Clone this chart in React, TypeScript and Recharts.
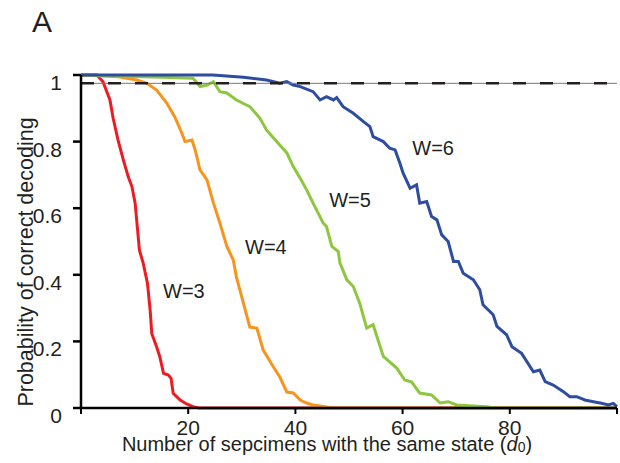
import React from "react";
import { LineChart, Line, XAxis, YAxis, ReferenceLine, ReferenceDot } from "recharts";

// [d0, probability]
const w3: [number, number][] = [
  [0, 1], [3, 1], [3.5, 0.99], [4.1, 0.98], [5.4, 0.925], [6, 0.87], [6.9, 0.805],
  [7.9, 0.745], [8.8, 0.695], [9.5, 0.665], [10.1, 0.615], [10.5, 0.545], [10.9, 0.474],
  [11.6, 0.435], [12.4, 0.375], [12.9, 0.294], [13.2, 0.224], [14.1, 0.184], [14.7, 0.154],
  [15.4, 0.104], [16.3, 0.099], [16.8, 0.089], [17.2, 0.044], [18.5, 0.024], [19.7, 0.012],
  [20.9, 0.004], [22, 0], [100, 0],
];

const w4: [number, number][] = [
  [0, 1], [7, 0.995], [10.4, 0.985], [12.3, 0.975], [14.1, 0.955], [16, 0.916], [17.5, 0.874],
  [18.8, 0.826], [19.4, 0.8], [20.7, 0.805], [21.3, 0.775], [22.2, 0.715], [23.5, 0.685],
  [24.7, 0.616], [25.9, 0.556], [27.2, 0.486], [28.4, 0.445], [29, 0.393], [30, 0.333],
  [31.5, 0.243], [32.8, 0.24], [34, 0.174], [35.9, 0.123], [37.1, 0.093], [38.4, 0.048],
  [39.6, 0.045], [40.9, 0.024], [42.1, 0.015], [43.3, 0.009], [45.8, 0.003], [47, 0], [100, 0],
];

const w5: [number, number][] = [
  [0, 1], [15, 0.993], [20.9, 0.99], [22.2, 0.965], [23.5, 0.97], [24.7, 0.98], [25.9, 0.95],
  [27.2, 0.946], [29, 0.925], [31.5, 0.905], [33.4, 0.87], [34.6, 0.835], [36.5, 0.8],
  [38.4, 0.766], [39.6, 0.725], [40.9, 0.69], [42.1, 0.655], [43.3, 0.615], [45.2, 0.555],
  [45.8, 0.545], [46.8, 0.485], [48, 0.47], [48.3, 0.436], [49.6, 0.385], [50.8, 0.365],
  [52, 0.315], [53.3, 0.24], [54.5, 0.25], [56.4, 0.155], [58.9, 0.12], [60.4, 0.084],
  [61.7, 0.078], [63.2, 0.045], [65.4, 0.039], [67, 0.015], [68.5, 0.019], [70.1, 0.009],
  [73.2, 0.006], [75.7, 0.004], [77, 0], [100, 0],
];

const w6: [number, number][] = [
  [0, 1], [24.6, 1], [30.3, 0.993], [34.6, 0.985], [37.1, 0.975], [38.4, 0.98], [39.6, 0.97],
  [40.9, 0.965], [43.3, 0.95], [44.6, 0.925], [45.8, 0.935], [47.1, 0.925], [47.7, 0.932],
  [48.9, 0.905], [50.8, 0.885], [52.7, 0.86], [53.9, 0.845], [54.5, 0.815], [56.4, 0.8],
  [57.6, 0.78], [58.6, 0.775], [59.5, 0.735], [60.1, 0.705], [61.4, 0.66], [62.6, 0.67],
  [63.2, 0.615], [64.5, 0.62], [65.4, 0.575], [66.4, 0.565], [67.3, 0.52], [68.5, 0.5],
  [69.5, 0.44], [70.4, 0.44], [71.3, 0.405], [73.2, 0.385], [74.4, 0.355], [75, 0.31],
  [76.9, 0.28], [77.6, 0.245], [79.4, 0.22], [80.4, 0.184], [82.2, 0.164], [84.4, 0.109],
  [85.6, 0.114], [86.6, 0.079], [88.1, 0.069], [90, 0.049], [91.2, 0.034], [92.5, 0.034],
  [94, 0.024], [95.6, 0.019], [97.1, 0.014], [98.4, 0.009], [99.3, 0.014], [100, 0.004],
];

const seriesNames = ["W=3", "W=4", "W=5", "W=6"];
const xTicks = [0, 20, 40, 60, 80, 100];
const yTicks = [0, 0.2, 0.4, 0.6, 0.8, 1];
const threshold = 0.975;

// where the W= labels sit, in data units
const labelSpots: [number, number][] = [[19.2, 0.351], [34.5, 0.485], [50.2, 0.626], [65.7, 0.782]];

const colors = ["#ec1c24", "#f7941d", "#8dc63f", "#2e4da0"];
const ink = "#231f20";
const font = "'Liberation Sans', Arial, sans-serif";

const toRows = (pts: [number, number][]) => pts.map(([d, p]) => ({ d, p }));
const allSeries = [w3, w4, w5, w6].map(toRows);

const YTick = (props: any) => {
  const { x, y, payload } = props;
  const v = payload.value;
  const txt = v === 0 || v === 1 ? String(v) : v.toFixed(1);
  return (
    <text x={x} y={y + 15} textAnchor="end" fill={ink} fontSize={21} fontFamily={font}>
      {txt}
    </text>
  );
};

const XTick = (props: any) => {
  const { x, y, payload } = props;
  const v = payload.value;
  if (v === 0 || v === 100) return <g />;
  return (
    <text x={x} y={y + 19} textAnchor="middle" fill={ink} fontSize={21} fontFamily={font}>
      {v}
    </text>
  );
};

export default function App() {
  return (
    <div style={{ position: "absolute", left: 0, top: 0, width: 620, height: 463, background: "#fff" }}>
      <LineChart width={620} height={463} margin={{ top: 75, right: 3, bottom: 25, left: 21 }}>
        <XAxis
          dataKey="d"
          type="number"
          domain={[0, 100]}
          ticks={xTicks}
          height={30}
          axisLine={{ stroke: "#000", strokeWidth: 2.5 }}
          tickLine={{ stroke: "#000", strokeWidth: 2 }}
          tickSize={6}
          tickMargin={2}
          tick={<XTick />}
          allowDuplicatedCategory={false}
        />
        <YAxis
          type="number"
          domain={[0, 1]}
          ticks={yTicks}
          width={60}
          axisLine={{ stroke: "#000", strokeWidth: 2.5 }}
          tickLine={{ stroke: "#000", strokeWidth: 2.5 }}
          tickSize={8}
          tickMargin={11}
          tick={<YTick />}
        />
        {allSeries.map((rows, i) => (
          <Line
            key={seriesNames[i]}
            data={rows}
            dataKey="p"
            type="linear"
            stroke={colors[i]}
            strokeWidth={3}
            dot={false}
            isAnimationActive={false}
          />
        ))}
        <ReferenceLine y={threshold} stroke="#777" strokeWidth={1} />
        <ReferenceLine y={threshold} stroke={ink} strokeWidth={2.5} strokeDasharray="13 14" />
        {labelSpots.map(([x, y], i) => (
          <ReferenceDot
            key={seriesNames[i]}
            x={x}
            y={y}
            r={0.01}
            fill="none"
            stroke="none"
            label={{ value: seriesNames[i], position: "center", fill: ink, fontSize: 20, fontFamily: font }}
          />
        ))}
      </LineChart>
      <svg width={620} height={463} style={{ position: "absolute", left: 0, top: 0, pointerEvents: "none" }}>
        <text x={32} y={32} fill={ink} fontSize={30} fontFamily={font}>A</text>
        <text
          transform="translate(33, 262) rotate(-90)"
          textAnchor="middle"
          fill={ink}
          fontSize={21.5}
          fontFamily={font}
        >
          Probability of correct decoding
        </text>
        <text x={327} y={451} textAnchor="middle" fill={ink} fontSize={20} fontFamily={font}>
          Number of sepcimens with the same state (
          <tspan fontStyle="italic">d</tspan>
          <tspan fontSize={14} dy={1}>0</tspan>
          <tspan dy={-1}>)</tspan>
        </text>
      </svg>
    </div>
  );
}
